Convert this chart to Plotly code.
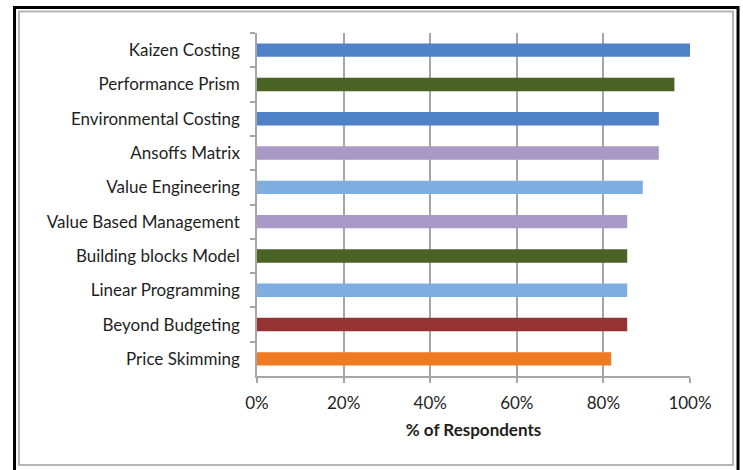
import plotly.graph_objects as go

categories = ["Kaizen Costing", "Performance Prism", "Environmental Costing", "Ansoffs Matrix",
              "Value Engineering", "Value Based Management", "Building blocks Model",
              "Linear Programming", "Beyond Budgeting", "Price Skimming"]
values = [100, 96.4, 92.8, 92.8, 89.1, 85.5, 85.5, 85.5, 85.5, 81.8]
bar_colors = ["#4f81c6", "#4a6223", "#4f81c6", "#a899c6", "#7eaee0",
              "#a899c6", "#4a6223", "#7eaee0", "#953234", "#ee7a22"]
x_ticks = [0, 20, 40, 60, 80, 100]
x_labels = ["0%", "20%", "40%", "60%", "80%", "100%"]

W, H = 743, 470
L, R, T, B = 257.3, 690.0, 33.0, 376.0

def px(x):
    return (x - L) / (R - L)

def py(y):
    return (B - y) / (B - T)

fig = go.Figure(go.Bar(
    y=categories, x=values, orientation="h",
    marker=dict(color=bar_colors, line=dict(width=0)),
    hoverinfo="x+y",
))

font_family = "Lato, 'Open Sans', sans-serif"
txt = "#1e1e1e"

fig.update_layout(
    width=W, height=H,
    margin=dict(l=L, r=W - R, t=T, b=H - B),
    paper_bgcolor="white", plot_bgcolor="white",
    bargap=0.61,
    showlegend=False,
    font=dict(family=font_family, size=17, color=txt),
    xaxis=dict(
        range=[0, 100], tickvals=x_ticks, ticktext=x_labels,
        showgrid=True, gridcolor="#a6a6a6", gridwidth=1.5,
        showline=True, linecolor="#a6a6a6", linewidth=1.5,
        ticks="outside", ticklen=5, tickcolor="#a6a6a6", tickwidth=1.5,
        ticklabelstandoff=6,
        zeroline=False,
        tickfont=dict(size=17, family=font_family, color=txt),
        title=dict(text="<b>% of Respondents</b>", standoff=12,
                   font=dict(size=17, family=font_family, color=txt)),
    ),
    yaxis=dict(
        autorange="reversed",
        showgrid=False,
        showline=True, linecolor="#a6a6a6", linewidth=1.5,
        ticks="outside", ticklen=5, tickcolor="#a6a6a6", tickwidth=1.5,
        tickson="boundaries",
        ticklabelstandoff=12,
        tickfont=dict(size=17, family=font_family, color=txt),
    ),
    shapes=[
        dict(type="rect", xref="paper", yref="paper",
             x0=px(15), x1=px(738), y0=py(7.5), y1=py(478),
             line=dict(color="black", width=3), fillcolor="rgba(0,0,0,0)", layer="above"),
        dict(type="rect", xref="paper", yref="paper",
             x0=px(19.5), x1=px(733), y0=py(11.5), y1=py(465),
             line=dict(color="#b5b5b5", width=2), fillcolor="rgba(0,0,0,0)", layer="above"),
    ],
)

fig.write_html("out.html")
